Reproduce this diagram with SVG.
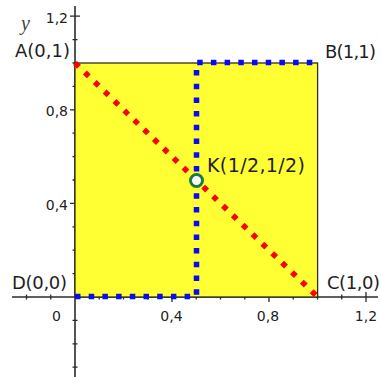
<svg xmlns="http://www.w3.org/2000/svg" width="381" height="377" viewBox="0 0 381 377">
  <style>
    .axis { stroke: #2b2b2b; stroke-width: 1.6; fill: none; }
    .tick { stroke: #2b2b2b; stroke-width: 1.3; fill: none; }
    .num { font-family: "DejaVu Sans", "Liberation Sans", sans-serif; font-size: 14px; fill: #222; }
    .lbl { font-family: "DejaVu Sans", "Liberation Sans", sans-serif; font-size: 18px; fill: #1e1e1e; }
    .big { font-size: 19px; }
    .dots { fill: none; stroke-width: 5.5; stroke-dasharray: 5.5 8.2; stroke-linecap: butt; stroke-linejoin: miter; }
  </style>
  <rect width="381" height="377" fill="#ffffff"/>
  <g id="axes">
    <line class="axis" x1="12" y1="297" x2="378" y2="297"/>
    <line class="axis" x1="75" y1="6" x2="75" y2="377"/>
    <path class="tick" d="M26.5,294.5v5 M50.75,294.5v5 M99.25,294.5v5 M123.5,294.5v5 M147.75,294.5v5 M196.25,294.5v5 M220.5,294.5v5 M244.75,294.5v5 M293.25,294.5v5 M317.5,294.5v5 M341.75,294.5v5 M172,292v10 M269,292v10 M366,292v10"/>
    <path class="tick" d="M72.5,367.2h5 M72.5,343.8h5 M72.5,320.4h5 M72.5,273.6h5 M72.5,250.2h5 M72.5,226.8h5 M72.5,180h5 M72.5,156.6h5 M72.5,133.2h5 M72.5,86.4h5 M72.5,63h5 M72.5,39.6h5 M70,203.4h10 M70,109.8h10 M70,16.2h10"/>
    <text class="num" x="68" y="22.5" text-anchor="end">1,2</text>
    <text class="num" x="68" y="116" text-anchor="end">0,8</text>
    <text class="num" x="68" y="209.5" text-anchor="end">0,4</text>
    <text class="num" x="56.5" y="321" text-anchor="middle">0</text>
    <text class="num" x="171.5" y="321" text-anchor="middle">0,4</text>
    <text class="num" x="268" y="321" text-anchor="middle">0,8</text>
    <text class="num" x="366" y="321" text-anchor="middle">1,2</text>
    <text x="21" y="30" font-family="Liberation Serif, serif" font-style="italic" font-size="20" fill="#444">y</text>
  </g>
  <g id="square">
    <rect x="75" y="63" width="242.6" height="234" fill="#ffff33" stroke="#2e2e1a" stroke-width="1.3"/>
  </g>
  <g id="connectors">
    <path class="dots" stroke="#0a0af5" d="M75,296.5 H196.5 V62.5 H317.5"/>
    <path class="dots" stroke="#ff0000" d="M75,63 L317.6,297"/>
  </g>
  <g id="node-A">
    <text class="lbl" x="15" y="57" textLength="55">A(0,1)</text>
  </g>
  <g id="node-B">
    <text class="lbl" x="325" y="57.5" textLength="51">B(1,1)</text>
  </g>
  <g id="node-C">
    <text class="lbl" x="327" y="289" textLength="53">C(1,0)</text>
  </g>
  <g id="node-D">
    <text class="lbl" x="12" y="288.5" textLength="55">D(0,0)</text>
  </g>
  <g id="node-K">
    <circle cx="196.5" cy="180.5" r="6" fill="#ffffff" stroke="#1b7d3d" stroke-width="3"/>
    <text class="lbl big" x="207" y="171.5" textLength="98">K(1/2,1/2)</text>
  </g>
</svg>
